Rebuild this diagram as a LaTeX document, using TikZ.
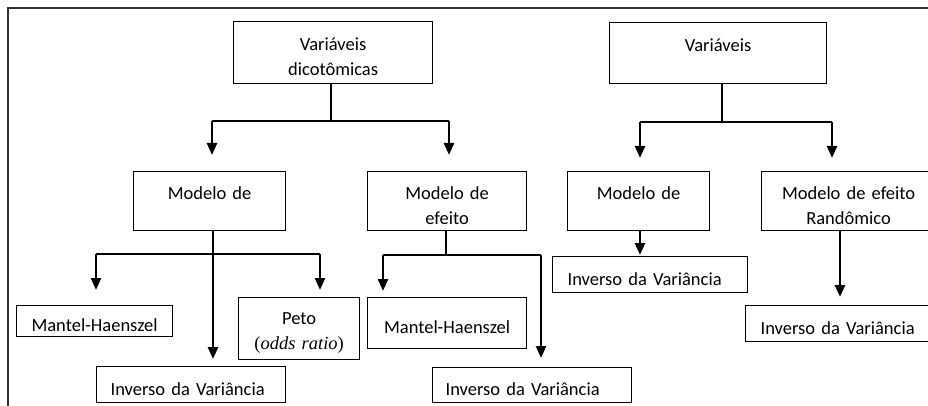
\documentclass[tikz,border=0pt]{standalone}
\usepackage{fontspec}
\setmainfont{Carlito}
\newfontfamily\serifa{Liberation Serif}
\usetikzlibrary{arrows.meta}

\begin{document}
\begin{tikzpicture}[x=1pt,y=-1pt,>={Triangle[width=10pt,length=12pt]},
	caixa/.style={draw, line width=1.2pt, anchor=north west, inner xsep=0pt, inner ysep=0pt, align=center,
		execute at begin node={\rule{0pt}{21.5pt}}},
	fio/.style={line width=1.2pt},
	seta/.style={->, line width=2.6pt},
	font=\fontsize{18.5}{25}\selectfont]
		\useasboundingbox (0,0) rectangle (928,406);
		\clip (0,0) rectangle (928,406);
		%\draw [help lines, step=50] (0,0) grid (928,406);
		\draw [line width=1.6pt, black!80] (8,8) rectangle (1000,500);
		%Variaveis dicotomicas
		\node [caixa, text width=199pt, minimum height=62pt] (vd) at (233,21) {Variáveis\\dicotômicas};
		\node [caixa, text width=152pt, minimum height=59pt] (md1) at (133,171) {Modelo de\\~};
		\node [caixa, text width=159pt, minimum height=59pt] (me1) at (367,171) {Modelo de\\efeito};
		\node [caixa, text width=156pt, minimum height=31pt] (mh1) at (16,305) {Mantel-Haenszel};
		\node [caixa, text width=121pt, minimum height=62pt] (peto) at (238,297) {Peto\\{\serifa(\textit{odds ratio})}};
		\node [caixa, inner xsep=14pt, text width=161pt, minimum height=36pt, align=left] (iv1) at (96,366) {Inverso da Variância};
		\node [caixa, text width=159pt, minimum height=51pt, execute at begin node={}] (mh2) at (367,297) {Mantel-Haenszel};
		\node [caixa, inner xsep=13pt, text width=173pt, minimum height=35pt, align=left] (iv2) at (432,367) {Inverso da Variância};
		%Variaveis
		\node [caixa, text width=217pt, minimum height=61pt] (v2) at (609,22) {Variáveis\\~};
		\node [caixa, text width=142pt, minimum height=59pt] (md2) at (567,171) {Modelo de\\~};
		\node [caixa, text width=174pt, minimum height=59pt] (mr) at (761,171) {Modelo de efeito\\Randômico};
		\node [caixa, inner xsep=15pt, text width=165pt, minimum height=36pt, align=left] (iv3) at (552,256) {Inverso da Variância};
		\node [caixa, inner xsep=15pt, text width=170pt, minimum height=36pt, align=left] (iv4) at (745,305) {Inverso da Variância};
		%Ramos
		\coordinate (j1) at (331,121);
		\coordinate (j1a) at (212,121);
		\coordinate (j1b) at (449,121);
		\draw [fio] (j1 |- vd.south) -- (j1);
		\draw [fio] (j1a) -- (j1b);
		\draw [seta, shorten >=16pt] (j1a) -- (j1a |- md1.north);
		\draw [seta, shorten >=16pt] (j1b) -- (j1b |- me1.north);
		\coordinate (j2) at (722,122);
		\coordinate (j2a) at (640,122);
		\coordinate (j2b) at (832,122);
		\draw [fio] (j2 |- v2.south) -- (j2);
		\draw [fio] (j2a) -- (j2b);
		\draw [seta, shorten >=13pt] (j2a) -- (j2a |- md2.north);
		\draw [seta, shorten >=13pt] (j2b) -- (j2b |- mr.north);
		\coordinate (j3) at (213,254);
		\coordinate (j3a) at (96,254);
		\coordinate (j3b) at (320,254);
		\draw [fio] (j3 |- md1.south) -- (j3);
		\draw [fio] (j3a) -- (j3b);
		\draw [seta, shorten >=15pt] (j3a) -- (j3a |- mh1.north);
		\draw [seta, shorten >=7pt] (j3b) -- (j3b |- peto.north);
		\draw [seta, shorten >=7pt] (j3) -- (j3 |- iv1.north);
		\coordinate (j4) at (446,255);
		\coordinate (j4a) at (383,255);
		\coordinate (j4b) at (541,255);
		\draw [fio] (j4 |- me1.south) -- (j4);
		\draw [fio] (j4a) -- (j4b);
		\draw [seta, shorten >=6pt] (j4a) -- (j4a |- mh2.north);
		\draw [seta, shorten >=9pt] (j4b) -- (j4b |- iv2.north);
		\coordinate (j5) at (640,230);
		\coordinate (j6) at (840,230);
		\draw [seta, shorten >=1pt] (j5 |- md2.south) -- (j5 |- iv3.north);
		\draw [seta, shorten >=8pt] (j6 |- mr.south) -- (j6 |- iv4.north);
	\end{tikzpicture}
\end{document}
